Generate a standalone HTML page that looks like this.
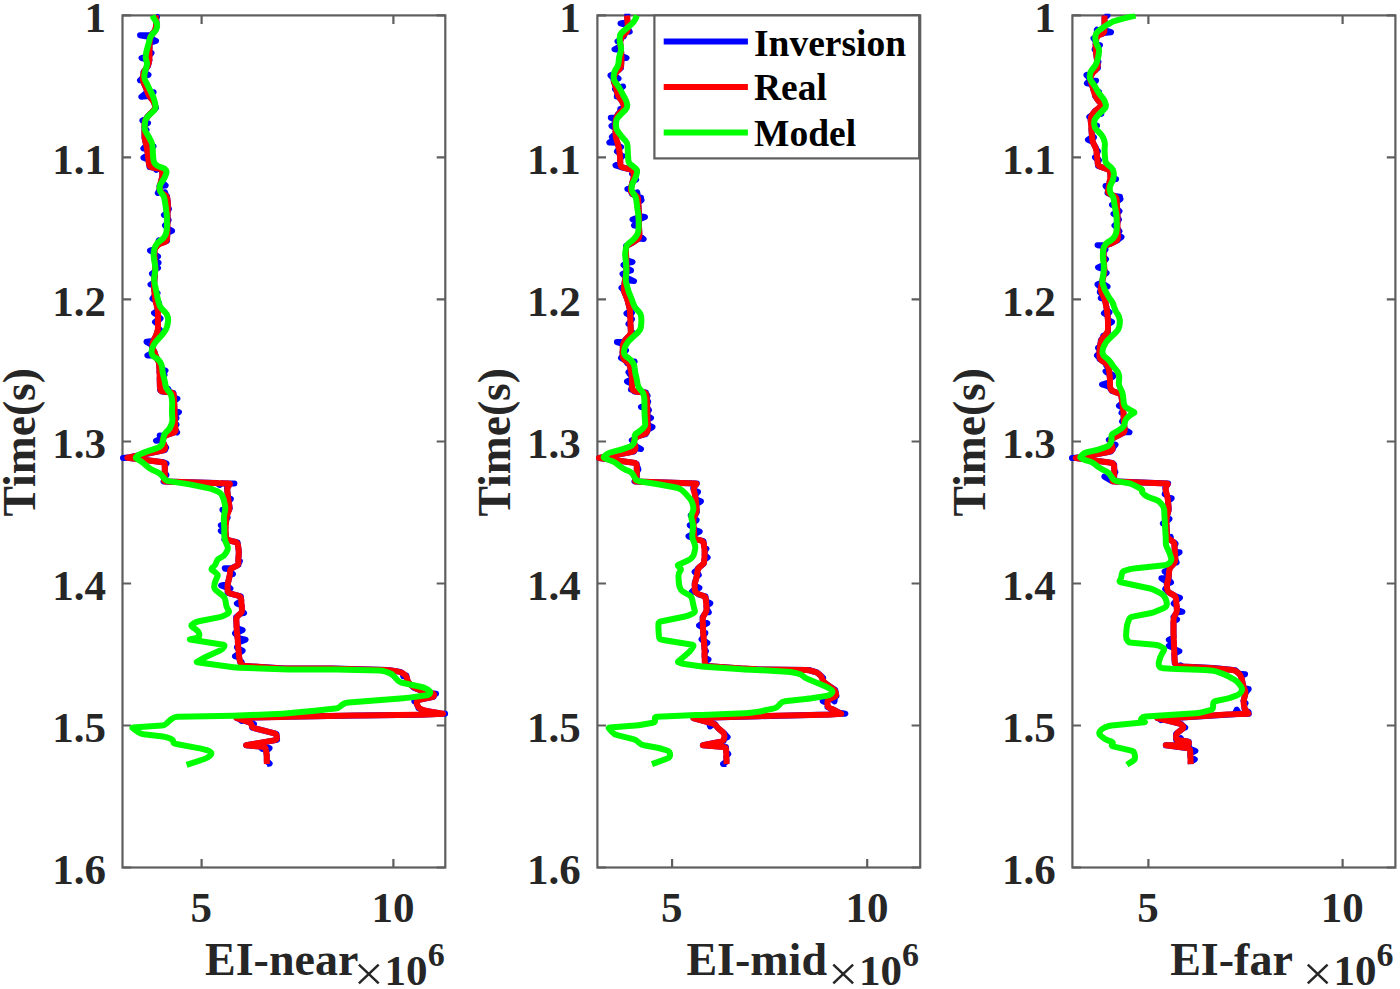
<!DOCTYPE html>
<html><head><meta charset="utf-8"><title>EI inversion</title>
<style>
html,body{margin:0;padding:0;background:#fff;}
body{width:1400px;height:989px;overflow:hidden;font-family:"Liberation Serif",serif;}
svg{display:block;}
text{font-family:"Liberation Serif",serif;font-weight:bold;fill:#262626;}
.leg{fill:#000;}
.c{fill:none;stroke-width:6.0;stroke-linejoin:round;stroke-linecap:butt;}
</style></head><body>
<svg width="1400" height="989" viewBox="0 0 1400 989">
<rect width="1400" height="989" fill="#fff"/>
<!-- panel 1: EI-near -->
<clipPath id="cp0"><rect x="118.5" y="13.8" width="330.8" height="853.7"/></clipPath>
<rect x="122.5" y="15.4" width="322.8" height="852.1" fill="none" stroke="#5e5e5e" stroke-width="2.2"/>
<path d="M122.5,15.4h8.6M445.3,15.4h-8.6M122.5,157.4h8.6M445.3,157.4h-8.6M122.5,299.4h8.6M445.3,299.4h-8.6M122.5,441.5h8.6M445.3,441.5h-8.6M122.5,583.5h8.6M445.3,583.5h-8.6M122.5,725.5h8.6M445.3,725.5h-8.6M122.5,867.5h8.6M445.3,867.5h-8.6M201.6,15.4v8.6M201.6,867.5v-8.6M393.4,15.4v8.6M393.4,867.5v-8.6" stroke="#5e5e5e" stroke-width="2.2" fill="none"/>
<path class="c" clip-path="url(#cp0)" d="M155.5,15.5L155.5,15.5L157.0,16.8L156.1,19.4L156.5,22.0L155.5,30.0L151.5,35.1L140.0,35.3L150.0,37.0L150.0,37.0L149.9,38.0L156.0,40.9L149.6,42.8L149.5,44.0L149.5,52.0L149.5,52.0L151.5,53.0L149.5,55.4L149.5,55.6L141.5,58.0L149.5,60.0L149.5,60.0L148.0,66.0L143.5,72.0L143.5,72.0L148.5,74.8L142.9,76.5L142.8,77.6L140.0,80.3L142.5,80.0L142.5,80.0L146.0,88.0L147.5,91.9L141.4,96.8L149.0,96.0L147.5,91.9L153.6,92.2L149.0,96.0L149.0,96.0L153.5,101.0L156.0,108.0L148.0,116.0L145.9,119.0L142.4,120.5L144.5,121.0L144.5,121.0L144.5,121.0L148.0,123.0L144.5,125.4L144.5,127.6L146.5,130.0L144.5,130.0L144.5,130.0L144.5,138.0L146.3,145.3L143.4,148.5L147.0,148.0L146.4,145.7L153.6,146.5L147.0,148.0L147.0,148.0L147.8,154.8L143.5,157.8L148.4,159.6L148.5,160.0L149.5,167.0L154.2,167.8L156.3,170.0L159.0,168.5L162.0,169.0L162.5,175.0L161.5,180.0L161.1,181.3L165.6,185.4L159.5,185.9L159.5,186.0L159.8,189.6L157.8,193.1L160.0,192.0L160.0,192.0L161.8,193.0L165.0,192.2L166.0,195.4L167.0,196.0L168.0,204.0L167.9,206.5L169.0,208.9L167.7,211.3L167.6,212.6L164.0,215.0L167.5,215.0L167.5,215.0L167.5,217.6L168.7,220.0L167.5,222.4L167.5,223.1L165.0,225.5L167.5,227.9L167.5,228.0L167.5,228.3L172.0,230.9L167.3,233.1L167.0,241.0L162.3,242.8L158.7,240.4L158.0,244.5L158.0,244.5L154.5,249.0L154.5,249.0L150.0,250.5L154.5,252.9L154.5,254.1L158.0,256.5L154.5,258.0L154.5,258.0L154.8,260.7L158.5,262.7L155.2,265.4L155.3,265.6L158.0,268.0L155.5,268.0L155.5,268.0L155.1,271.6L152.0,273.7L154.7,276.4L154.5,278.0L154.2,282.5L150.5,284.6L154.0,285.0L154.0,285.0L154.3,290.9L157.5,293.1L154.5,295.0L154.5,295.0L154.6,295.8L152.5,298.6L155.5,300.5L156.0,303.0L156.0,303.0L159.1,303.5L157.0,306.6L158.0,310.0L158.0,310.6L154.0,313.0L158.0,315.4L158.0,316.1L160.5,318.5L158.0,320.9L158.0,319.6L155.0,322.0L158.0,324.4L158.0,327.6L160.0,330.0L158.0,330.0L158.0,330.0L156.0,336.0L153.0,341.0L153.0,341.0L146.5,341.8L152.3,345.2L152.0,347.0L154.5,352.0L154.5,352.0L147.4,355.4L155.5,355.5L156.0,357.0L159.0,362.0L159.4,368.5L165.5,370.6L159.5,371.0L159.5,371.0L159.5,372.8L164.5,375.1L159.7,377.6L160.0,390.0L162.0,391.5L165.4,391.9L168.2,389.0L170.2,392.6L173.5,393.0L174.0,398.0L174.0,398.0L177.5,398.6L174.1,401.1L174.5,410.0L174.5,410.0L179.0,412.1L174.6,414.6L174.7,415.7L176.5,418.1L174.8,420.5L174.9,422.2L176.5,424.6L175.0,426.0L175.0,426.0L175.6,429.6L177.1,432.5L176.0,432.0L176.0,432.0L165.0,435.5L164.6,436.0L159.7,435.6L162.0,440.0L163.3,438.0L156.0,440.8L162.0,440.0L162.0,440.0L165.0,446.0L165.0,446.0L166.2,447.5L165.0,449.9L165.0,450.0L129.7,457.2L123.0,457.9L127.3,457.7L127.3,457.7L163.6,462.3L163.6,462.3L166.5,463.5L164.8,463.5L164.8,463.5L164.8,472.6L166.4,475.0L164.8,477.4L164.8,478.0L163.5,481.5L217.1,483.1L219.5,485.0L221.9,483.2L228.0,483.4L234.4,483.5L230.4,483.5L230.4,483.5L227.0,488.0L228.0,497.5L228.0,497.5L230.8,499.0L228.7,501.8L229.8,508.4L229.1,510.0L222.4,509.8L227.2,514.4L226.7,515.7L226.7,515.7L227.7,517.4L226.3,519.6L226.0,523.3L220.8,525.2L225.5,528.0L225.5,528.0L225.5,528.3L220.8,530.9L225.7,533.1L225.9,536.6L224.4,539.5L226.0,539.0L226.0,539.0L229.1,540.5L237.6,542.4L238.9,552.0L238.3,560.6L238.3,560.6L239.9,561.1L238.4,563.6L238.5,564.9L232.2,568.0L224.7,568.2L230.0,569.1L232.2,568.0L225.0,568.7L230.0,569.1L230.0,569.1L230.0,571.6L232.9,574.0L230.0,574.6L230.0,574.6L227.6,584.3L227.6,584.3L221.1,585.5L227.6,587.9L227.6,586.1L230.4,588.5L227.6,590.9L227.6,592.8L240.9,596.4L241.3,600.8L236.9,603.5L241.7,605.6L242.1,611.0L242.1,611.0L244.0,613.1L240.9,613.4L240.9,613.4L236.1,617.1L236.7,628.0L236.7,628.0L242.6,630.0L237.1,632.8L236.9,630.8L235.0,633.3L237.3,635.6L237.5,637.9L245.6,639.7L237.9,642.6L237.9,642.6L238.1,644.7L236.9,647.2L238.5,649.5L238.4,648.6L242.6,650.7L238.8,653.4L238.8,653.6L235.0,656.3L239.1,657.1L239.1,657.1L240.1,662.1L240.1,662.1L241.7,661.9L241.8,664.7L242.5,665.8L285.0,668.6L333.6,668.6L388.2,670.0L400.4,671.9L402.4,673.1L403.2,676.3L406.4,675.5L406.4,675.5L407.6,681.6L413.7,687.6L424.6,691.9L432.0,693.3L436.0,693.7L434.4,693.7L434.4,693.7L433.8,696.8L418.6,699.8L417.8,700.5L414.3,701.3L416.1,702.2L416.1,702.2L418.6,708.3L424.6,710.7L440.6,713.4L445.1,713.8L443.0,713.8L443.0,713.8L418.6,714.8L357.9,715.4L285.0,716.8L236.4,718.0L239.6,719.1L241.5,721.0L244.2,720.6L251.0,722.9L251.0,722.9L254.0,724.0L252.0,726.9L252.2,727.7L276.5,733.8L277.1,739.9L246.1,745.3L260.0,746.6L262.2,748.8L264.8,747.0L265.6,747.1L265.6,747.1L269.6,748.1L266.1,751.0L266.8,755.6L266.8,761.1L269.6,763.5L266.8,764.1L266.8,764.1" stroke="#0000ff"/>
<path class="c" clip-path="url(#cp0)" d="M155.5,15.5L156.0,19.0Q156.5,22.0 156.1,25.0L155.9,27.0Q155.5,30.0 153.6,32.4L151.9,34.6Q150.0,37.0 149.8,40.0L149.7,41.0Q149.5,44.0 149.5,47.0L149.5,49.0Q149.5,52.0 149.5,55.0L149.5,57.0Q149.5,60.0 148.8,62.9L148.7,63.1Q148.0,66.0 146.2,68.4L145.3,69.6Q143.5,72.0 143.1,75.0L142.9,77.0Q142.5,80.0 143.7,82.7L144.8,85.3Q146.0,88.0 147.1,90.8L147.9,93.2Q149.0,96.0 151.0,98.2L151.5,98.8Q153.5,101.0 154.5,103.8L155.0,105.2Q156.0,108.0 153.9,110.1L150.1,113.9Q148.0,116.0 146.3,118.5L146.2,118.5Q144.5,121.0 144.5,124.0L144.5,127.0Q144.5,130.0 144.5,133.0L144.5,135.0Q144.5,138.0 145.2,140.9L146.3,145.1Q147.0,148.0 147.4,151.0L148.1,157.0Q148.5,160.0 148.9,163.0L149.1,164.0Q149.5,167.0 152.5,167.5L159.0,168.5Q162.0,169.0 162.2,172.0L162.3,172.0Q162.5,175.0 162.0,177.5L162.0,177.5Q161.5,180.0 160.6,182.8L160.4,183.2Q159.5,186.0 159.7,189.0L159.8,189.0Q160.0,192.0 162.6,193.5L164.4,194.5Q167.0,196.0 167.4,199.0L167.6,201.0Q168.0,204.0 167.9,207.0L167.6,212.0Q167.5,215.0 167.5,218.0L167.5,225.0Q167.5,228.0 167.4,231.0L167.1,238.0Q167.0,241.0 164.2,242.1L160.8,243.4Q158.0,244.5 156.2,246.8L156.2,246.8Q154.5,249.0 154.5,252.0L154.5,255.0Q154.5,258.0 154.8,261.0L155.2,265.0Q155.5,268.0 155.2,271.0L154.8,275.0Q154.5,278.0 154.3,281.0L154.2,282.0Q154.0,285.0 154.1,288.0L154.4,292.0Q154.5,295.0 155.1,297.9L155.4,300.1Q156.0,303.0 156.8,305.9L157.2,307.1Q158.0,310.0 158.0,313.0L158.0,327.0Q158.0,330.0 157.1,332.8L156.9,333.2Q156.0,336.0 154.5,338.5L154.5,338.5Q153.0,341.0 152.5,344.0L152.5,344.0Q152.0,347.0 153.2,349.5L153.2,349.5Q154.5,352.0 155.2,354.5L155.2,354.5Q156.0,357.0 157.5,359.5L157.5,359.5Q159.0,362.0 159.2,365.0L159.3,368.0Q159.5,371.0 159.6,374.0L159.9,387.0Q160.0,390.0 161.0,390.8L161.0,390.8Q162.0,391.5 165.0,391.9L170.5,392.6Q173.5,393.0 173.8,395.5L173.8,395.5Q174.0,398.0 174.1,401.0L174.4,407.0Q174.5,410.0 174.6,413.0L174.9,423.0Q175.0,426.0 175.5,429.0L175.5,429.0Q176.0,432.0 173.1,432.9L167.9,434.6Q165.0,435.5 163.5,437.8L163.5,437.8Q162.0,440.0 163.3,442.7L163.7,443.3Q165.0,446.0 165.0,448.0L165.0,448.0Q165.0,450.0 162.1,450.6L127.3,457.7L160.6,461.9Q163.6,462.3 164.2,462.9L164.2,462.9Q164.8,463.5 164.8,466.5L164.8,475.0Q164.8,478.0 164.2,479.8L164.2,479.8Q163.5,481.5 165.5,481.6L229.1,483.5Q230.4,483.5 229.6,484.5L228.7,485.8Q227.0,488.0 227.3,491.0L227.7,494.5Q228.0,497.5 228.5,500.5L229.3,505.4Q229.8,508.4 228.6,511.2L227.9,512.9Q226.7,515.7 226.4,518.7L225.8,525.0Q225.5,528.0 225.6,531.0L225.9,536.0Q226.0,539.0 227.6,539.8L227.6,539.8Q229.1,540.5 232.0,541.2L234.7,541.7Q237.6,542.4 238.0,545.4L238.5,549.0Q238.9,552.0 238.7,555.0L238.5,557.6Q238.3,560.6 238.4,562.8L238.4,562.8Q238.5,564.9 235.8,566.2L232.7,567.8Q230.0,569.1 230.0,571.9L230.0,571.9Q230.0,574.6 229.3,577.5L228.3,581.4Q227.6,584.3 227.6,587.3L227.6,589.8Q227.6,592.8 230.5,593.6L238.0,595.6Q240.9,596.4 241.1,599.4L241.9,608.0Q242.1,611.0 241.5,612.2L241.5,612.2Q240.9,613.4 238.5,615.2L238.5,615.3Q236.1,617.1 236.3,620.1L236.5,625.0Q236.7,628.0 236.9,631.0L237.7,639.6Q237.9,642.6 238.1,645.6L238.9,654.1Q239.1,657.1 239.6,659.6L239.6,659.6Q240.1,662.1 241.3,664.0L241.3,664.0Q242.5,665.8 245.5,666.0L282.0,668.4Q285.0,668.6 288.0,668.6L330.6,668.6Q333.6,668.6 336.6,668.7L385.2,669.9Q388.2,670.0 391.2,670.5L397.4,671.4Q400.4,671.9 403.0,673.4L403.8,674.0Q406.4,675.5 407.0,678.4L407.0,678.7Q407.6,681.6 409.7,683.7L411.6,685.5Q413.7,687.6 416.5,688.7L421.8,690.8Q424.6,691.9 427.6,692.4L431.5,693.2Q434.4,693.7 434.1,695.2L434.1,695.2Q433.8,696.8 430.9,697.4L421.5,699.2Q418.6,699.8 417.4,701.0L417.4,701.0Q416.1,702.2 417.2,705.0L417.5,705.5Q418.6,708.3 421.4,709.4L421.8,709.6Q424.6,710.7 427.6,711.2L443.0,713.8L421.6,714.7Q418.6,714.8 415.6,714.8L360.9,715.4Q357.9,715.4 354.9,715.5L288.0,716.7Q285.0,716.8 282.0,716.9L236.4,718.0L248.2,721.9Q251.0,722.9 251.6,725.3L251.6,725.3Q252.2,727.7 255.1,728.4L273.6,733.1Q276.5,733.8 276.8,736.8L276.8,736.9Q277.1,739.9 274.1,740.4L246.1,745.3L262.6,746.8Q265.6,747.1 266.0,750.1L266.4,752.6Q266.8,755.6 266.8,758.6L266.8,764.1" stroke="#ff0000"/>
<path class="c" clip-path="url(#cp0)" d="M152.5,15.5L152.8,16.2Q153.0,17.0 154.6,19.5L155.9,21.5Q157.5,24.0 157.0,27.0L157.0,27.0Q156.5,30.0 154.4,32.1L152.6,33.9Q150.5,36.0 149.8,38.9L149.2,41.1Q148.5,44.0 147.7,46.9L146.8,50.1Q146.0,53.0 145.8,55.5L145.8,55.5Q145.5,58.0 146.4,60.8L146.6,61.2Q147.5,64.0 146.5,66.8L146.0,68.2Q145.0,71.0 144.6,74.0L144.4,75.0Q144.0,78.0 145.3,80.7L146.7,83.3Q148.0,86.0 149.3,88.7L151.2,92.3Q152.5,95.0 153.5,97.8L154.0,99.2Q155.0,102.0 155.4,105.0L155.6,106.0Q156.0,109.0 153.7,111.0L151.3,113.0Q149.0,115.0 147.1,117.3L146.9,117.7Q145.0,120.0 144.9,123.0L144.6,127.0Q144.5,130.0 146.1,132.5L147.4,134.5Q149.0,137.0 150.3,139.7L151.2,141.3Q152.5,144.0 152.6,147.0L152.7,149.0Q152.8,152.0 153.0,155.0L153.3,159.0Q153.5,162.0 155.2,164.0L155.2,164.0Q157.0,166.0 159.9,166.9L162.1,167.6Q165.0,168.5 166.0,170.2L166.0,170.2Q167.0,172.0 165.8,174.8L165.2,176.2Q164.0,179.0 162.2,181.4L161.3,182.6Q159.5,185.0 159.5,188.0L159.5,188.0Q159.5,191.0 161.5,193.2L162.0,193.8Q164.0,196.0 164.5,199.0L165.0,202.0Q165.5,205.0 165.9,208.0L166.4,212.0Q166.8,215.0 166.9,218.0L166.9,222.0Q167.0,225.0 166.8,228.0L166.7,230.0Q166.5,233.0 165.2,235.5L165.2,235.5Q164.0,238.0 161.6,239.7L159.4,241.3Q157.0,243.0 155.7,245.7L155.3,246.3Q154.0,249.0 153.8,252.0L153.7,253.0Q153.5,256.0 154.1,258.9L154.4,261.1Q155.0,264.0 155.2,267.0L155.3,267.0Q155.5,270.0 154.9,272.9L154.6,275.1Q154.0,278.0 154.2,280.5L154.2,280.5Q154.5,283.0 155.1,285.9L155.4,287.1Q156.0,290.0 156.6,292.9L157.4,297.1Q158.0,300.0 158.8,302.9L159.2,304.1Q160.0,307.0 162.1,309.1L164.9,311.9Q167.0,314.0 167.7,316.9L167.8,317.1Q168.5,320.0 167.8,322.9L167.2,326.1Q166.5,329.0 164.7,331.4L163.8,332.6Q162.0,335.0 160.0,337.2L157.5,339.8Q155.5,342.0 154.0,344.6L153.0,346.4Q151.5,349.0 151.5,352.0L151.5,352.0Q151.5,355.0 154.0,356.7L156.5,358.3Q159.0,360.0 160.5,362.5L160.5,362.5Q162.0,365.0 162.2,368.0L162.3,369.0Q162.5,372.0 163.2,374.9L163.8,377.1Q164.5,380.0 165.1,382.9L165.4,385.1Q166.0,388.0 167.9,390.3L169.1,391.7Q171.0,394.0 171.6,396.9L171.6,397.1Q172.2,400.0 172.2,403.0L172.0,409.0Q172.0,412.0 172.1,415.0L172.4,419.0Q172.5,422.0 171.3,424.8L170.7,426.2Q169.5,429.0 167.3,431.0L166.2,432.0Q164.0,434.0 163.6,437.0L163.4,439.0Q163.0,442.0 161.8,444.5L161.8,444.5Q160.5,447.0 157.6,447.9L150.9,450.1Q148.0,451.0 145.2,452.1L140.8,453.9Q138.0,455.0 136.5,456.5L136.5,456.5Q135.0,458.0 136.8,458.9L138.3,459.7Q141.0,461.0 143.3,463.0L147.9,467.0Q150.2,469.0 153.0,470.2L157.2,472.0Q160.0,473.2 161.9,475.6L162.9,476.9Q164.8,479.3 166.0,480.1L166.0,480.1Q167.2,481.0 170.2,481.4L184.9,483.6Q187.9,484.0 190.8,484.6L209.1,488.4Q212.0,489.0 214.8,490.2L217.8,491.4Q220.6,492.6 222.0,495.3L222.3,496.0Q223.7,498.7 224.2,501.6L225.0,505.5Q225.5,508.4 224.9,511.3L224.3,514.1Q223.7,517.0 223.9,520.0L224.1,524.9Q224.3,527.9 224.3,530.9L224.3,535.8Q224.3,538.8 225.5,541.6L227.3,545.7Q228.5,548.5 227.0,551.1L225.8,553.2Q224.3,555.8 221.6,557.1L219.7,558.1Q217.0,559.4 216.4,562.1L216.4,562.1Q215.8,564.9 213.5,566.8L212.3,567.7Q210.6,569.1 212.4,570.3L216.0,572.9Q218.5,574.6 217.1,577.3L216.8,577.9Q215.4,580.6 214.7,583.5L214.3,585.6Q213.6,588.5 216.0,590.4L222.7,595.7Q225.1,597.6 225.5,600.6L226.0,604.4Q226.4,607.4 228.2,609.8L228.4,610.1Q230.0,612.2 227.7,613.6L225.3,615.0Q222.7,616.5 219.8,617.1L198.9,621.3Q196.0,621.9 193.5,623.6L192.1,624.5Q190.5,625.6 192.1,626.7L196.5,629.9Q199.0,631.6 199.3,634.4L199.3,634.4Q199.6,637.1 196.7,637.8L189.9,639.5L223.2,644.7Q225.1,645.0 224.1,646.7L223.9,647.1Q222.7,649.3 220.0,650.5L210.0,654.9Q207.3,656.1 204.7,657.5L196.9,661.8Q196.4,662.1 197.0,662.2L233.4,667.2Q236.4,667.6 239.4,667.7L282.0,669.3Q285.0,669.4 288.0,669.4L330.6,669.4Q333.6,669.4 336.6,669.5L379.1,670.5Q382.1,670.6 385.0,671.5L389.0,672.8Q391.9,673.7 393.8,676.0L397.2,679.9Q399.1,682.2 402.0,682.8L421.7,687.0Q424.6,687.6 427.2,689.2L428.1,689.7Q430.7,691.3 430.1,693.1L430.1,693.1Q429.5,694.9 426.5,695.3L409.4,697.6Q406.4,698.0 403.4,698.2L348.7,702.6Q345.7,702.8 343.9,703.7L343.9,703.7Q342.1,704.6 340.2,706.4L340.2,706.5Q338.4,708.3 335.4,708.6L312.3,711.0Q309.3,711.3 306.3,711.6L288.0,713.3Q285.0,713.6 282.0,713.7L239.4,715.5Q236.4,715.6 233.4,715.7L177.5,716.7Q174.5,716.8 172.1,718.7L170.8,719.7Q168.4,721.6 166.6,723.5L166.6,723.5Q164.8,725.3 161.8,725.5L132.7,727.6Q132.0,727.7 132.6,728.1L138.1,732.1Q140.5,733.8 143.5,734.2L163.0,736.4Q166.0,736.8 168.8,738.0L170.5,738.7Q173.3,739.9 173.3,741.7L173.3,741.7Q173.3,743.5 176.3,744.0L197.0,747.9Q200.0,748.4 202.9,749.1L206.8,750.1Q209.7,750.8 210.9,752.3L210.9,752.3Q212.1,753.8 209.9,755.8L209.5,756.1Q207.3,758.1 204.4,759.0L186.6,764.8" stroke="#00ff00"/>
<text x="105.9" y="32.0" font-size="43" text-anchor="end">1</text>
<text x="105.9" y="174.0" font-size="43" text-anchor="end">1.1</text>
<text x="105.9" y="316.0" font-size="43" text-anchor="end">1.2</text>
<text x="105.9" y="458.1" font-size="43" text-anchor="end">1.3</text>
<text x="105.9" y="600.1" font-size="43" text-anchor="end">1.4</text>
<text x="105.9" y="742.1" font-size="43" text-anchor="end">1.5</text>
<text x="105.9" y="884.1" font-size="43" text-anchor="end">1.6</text>
<text x="201.3" y="921.6" font-size="43" text-anchor="middle">5</text>
<text x="393.1" y="921.6" font-size="43" text-anchor="middle">10</text>
<text x="205.0" y="975" font-size="46">EI-near</text>
<path d="M358.9,964.6l19.8,18.8M378.7,964.6l-19.8,18.8" stroke="#262626" stroke-width="2.5" fill="none"/>
<text x="384.5" y="985" font-size="43">10</text>
<text x="427.7" y="966" font-size="34">6</text>
<text transform="translate(35.0,442.3) rotate(-90) scale(0.97,1)" font-size="47" text-anchor="middle">Time(s)</text>
<!-- panel 2: EI-mid -->
<clipPath id="cp1"><rect x="593.4" y="13.8" width="330.8" height="853.7"/></clipPath>
<rect x="597.4" y="15.4" width="322.8" height="852.1" fill="none" stroke="#5e5e5e" stroke-width="2.2"/>
<path d="M597.4,15.4h8.6M920.2,15.4h-8.6M597.4,157.4h8.6M920.2,157.4h-8.6M597.4,299.4h8.6M920.2,299.4h-8.6M597.4,441.5h8.6M920.2,441.5h-8.6M597.4,583.5h8.6M920.2,583.5h-8.6M597.4,725.5h8.6M920.2,725.5h-8.6M597.4,867.5h8.6M920.2,867.5h-8.6M672.1,15.4v8.6M672.1,867.5v-8.6M867.2,15.4v8.6M867.2,867.5v-8.6" stroke="#5e5e5e" stroke-width="2.2" fill="none"/>
<path class="c" clip-path="url(#cp1)" d="M627.0,15.5L627.0,15.5L627.3,14.3L627.2,17.9L627.5,22.0L627.5,22.0L620.5,23.4L627.7,25.4L627.9,28.6L629.7,31.7L628.0,31.0L628.0,31.0L624.6,33.8L623.7,36.5L622.0,36.0L622.0,36.0L620.8,39.7L617.5,41.4L620.0,42.0L620.0,42.0L620.5,46.1L614.5,49.3L621.0,50.0L621.0,50.0L621.4,55.6L626.5,58.0L621.5,58.0L621.5,58.0L621.0,68.0L615.0,73.0L614.8,73.9L610.5,75.4L613.8,78.6L614.5,75.3L618.5,78.6L613.5,80.0L613.5,80.0L616.0,88.0L616.0,88.0L623.1,86.5L616.6,90.6L616.0,88.0L615.0,89.1L616.8,91.2L617.4,93.7L616.8,96.6L618.0,96.0L618.0,96.0L622.0,101.0L625.0,108.0L623.6,109.2L620.3,109.0L620.0,112.3L618.0,114.0L616.5,117.5L610.8,117.8L615.5,120.0L615.5,120.0L615.5,123.6L611.5,126.0L615.5,128.4L615.5,130.0L615.5,133.6L611.9,137.0L615.5,136.0L615.5,136.0L616.1,138.1L609.4,142.5L617.4,142.7L617.5,143.0L618.2,145.4L621.1,147.1L619.0,148.0L619.0,148.0L619.1,148.6L617.0,151.3L619.7,153.3L620.0,156.0L620.0,156.0L622.5,156.1L620.1,158.6L620.3,162.8L615.5,165.4L620.5,167.0L620.5,167.0L633.0,170.0L633.2,171.0L632.0,173.7L634.0,175.8L634.0,176.0L633.9,176.5L636.1,179.5L632.7,181.2L632.0,184.0L631.1,187.4L627.4,189.0L630.5,190.0L630.5,190.0L632.0,194.0L633.7,194.7L637.2,192.3L638.0,196.5L638.0,196.5L638.0,196.5L641.0,197.6L638.2,200.2L638.1,197.9L641.5,200.1L638.3,202.7L638.5,206.0L639.0,216.0L639.0,216.0L645.0,217.0L639.0,219.4L639.0,217.1L632.5,219.5L639.0,221.9L639.0,223.1L634.0,225.5L639.0,226.0L639.0,226.0L639.4,235.6L643.6,239.0L639.5,238.0L639.5,238.0L632.0,243.0L626.0,246.0L626.0,254.0L626.3,260.0L632.5,262.1L626.5,263.0L626.5,263.0L626.5,263.0L623.5,265.0L626.5,267.4L626.5,268.1L631.0,270.5L626.5,272.0L626.5,272.0L626.5,272.2L622.5,273.9L625.6,276.9L625.5,277.1L634.0,281.1L625.0,280.0L625.0,280.0L624.1,285.8L621.5,287.8L623.5,290.0L623.5,290.0L627.5,300.0L630.0,310.0L630.0,310.2L632.0,312.6L630.2,315.0L630.0,310.9L626.5,313.4L630.2,315.7L630.2,316.7L632.0,319.1L630.4,321.5L630.4,321.5L628.5,323.9L630.5,325.0L630.5,325.0L630.8,330.3L632.5,332.6L631.0,334.0L631.0,334.0L625.0,340.0L624.1,341.9L616.9,342.1L623.0,344.0L623.0,344.0L622.8,347.8L626.0,350.4L622.5,352.0L622.5,352.0L622.7,355.3L621.0,357.9L623.0,359.0L623.0,359.0L626.0,361.0L627.3,363.3L629.0,363.0L629.0,363.0L629.0,363.0L634.6,361.5L629.7,365.4L631.0,370.0L631.0,370.0L628.5,372.3L631.5,374.3L631.1,371.1L629.5,373.8L631.7,375.9L632.0,378.0L632.0,379.1L627.0,381.5L632.0,383.9L632.0,386.6L631.0,389.6L632.0,389.0L632.0,389.0L634.0,391.5L646.0,392.5L646.1,393.5L647.6,395.7L646.8,398.3L647.0,400.0L647.0,400.0L648.2,401.5L647.1,404.0L647.1,404.4L641.0,407.0L647.2,409.2L647.2,407.7L649.0,410.0L647.3,412.5L647.4,415.7L651.0,418.0L647.5,420.0L647.5,420.0L647.7,424.9L652.5,427.1L648.0,429.7L648.0,430.0L646.0,434.0L638.0,436.0L634.9,438.5L631.8,440.3L633.0,440.0L633.0,440.0L635.2,445.8L641.0,449.1L636.0,448.0L636.0,448.0L634.0,451.5L599.0,458.0L634.9,462.9L636.8,464.1L636.8,465.6L638.0,468.0L636.8,470.4L636.8,467.2L638.4,469.6L636.8,472.0L636.8,476.9L634.5,481.4L696.9,483.5L693.2,487.8L693.8,490.4L698.0,491.9L695.0,495.1L695.6,497.5L695.8,499.3L700.9,501.3L696.2,504.1L696.9,512.1L694.9,515.3L690.7,515.6L693.2,518.0L693.2,518.0L693.2,518.0L696.6,520.1L693.5,522.7L693.5,522.7L689.8,525.3L693.7,527.5L693.9,529.5L699.7,531.6L694.1,534.3L694.1,533.6L688.5,536.3L694.4,538.3L694.4,538.8L703.5,541.2L704.1,546.6L706.4,548.7L704.7,551.4L704.8,552.1L704.6,554.8L707.6,557.5L704.3,559.6L704.1,561.9L703.8,563.6L697.7,568.5L697.6,569.6L694.6,571.8L697.2,574.4L697.4,572.5L698.8,575.0L697.1,575.8L697.1,575.8L694.7,583.1L694.7,585.5L699.4,587.9L694.7,590.3L694.7,589.2L691.8,592.0L694.7,591.6L694.7,591.6L698.9,594.6L705.6,596.4L706.0,601.2L710.3,603.3L706.4,606.0L706.6,608.6L708.8,612.3L706.8,611.0L706.8,611.0L702.6,617.1L702.7,620.9L707.3,623.2L702.9,625.7L702.8,623.0L699.1,625.5L703.0,627.8L703.2,632.9L703.2,632.9L705.4,633.1L703.4,635.6L703.5,636.8L701.5,639.3L703.9,641.5L703.8,640.6L707.3,642.8L704.2,645.4L704.4,647.4L704.4,648.8L706.0,651.1L704.6,653.6L704.6,657.3L708.5,659.6L704.8,662.1L704.8,663.4L706.5,666.0L741.4,668.5L760.0,669.4L808.6,670.0L817.1,672.5L821.3,676.1L821.3,676.1L823.2,677.9L822.8,680.6L823.2,681.6L828.0,685.2L835.3,690.1L836.5,696.1L835.1,696.7L834.5,701.5L830.7,698.5L827.4,699.8L827.4,699.8L822.7,701.0L827.4,703.4L827.4,707.1L832.9,709.5L839.4,712.7L845.4,713.8L841.5,713.8L841.5,713.8L828.0,714.6L760.0,716.2L693.2,718.0L708.8,722.3L710.1,726.4L713.4,723.6L715.1,724.1L717.5,727.7L724.8,733.8L724.7,734.2L727.6,737.1L724.0,738.9L723.6,741.1L702.9,745.3L726.0,747.1L726.2,751.5L728.3,753.9L726.3,756.3L726.5,761.5L723.1,764.0L726.6,764.1L726.6,764.1" stroke="#0000ff"/>
<path class="c" clip-path="url(#cp1)" d="M627.0,15.5L627.3,19.0Q627.5,22.0 627.7,25.0L627.8,28.0Q628.0,31.0 625.7,32.9L624.3,34.1Q622.0,36.0 621.1,38.8L620.9,39.2Q620.0,42.0 620.4,45.0L620.6,47.0Q621.0,50.0 621.2,53.0L621.3,55.0Q621.5,58.0 621.4,61.0L621.1,65.0Q621.0,68.0 618.7,69.9L617.3,71.1Q615.0,73.0 614.4,75.9L614.1,77.1Q613.5,80.0 614.4,82.9L615.1,85.1Q616.0,88.0 616.7,90.9L617.3,93.1Q618.0,96.0 619.9,98.3L620.1,98.7Q622.0,101.0 623.2,103.8L623.8,105.2Q625.0,108.0 622.7,110.0L620.3,112.0Q618.0,114.0 616.8,116.8L616.7,117.2Q615.5,120.0 615.5,123.0L615.5,127.0Q615.5,130.0 615.5,133.0L615.5,133.0Q615.5,136.0 616.3,138.9L616.7,140.1Q617.5,143.0 618.2,145.5L618.2,145.5Q619.0,148.0 619.4,151.0L619.6,153.0Q620.0,156.0 620.1,159.0L620.4,164.0Q620.5,167.0 623.4,167.7L630.1,169.3Q633.0,170.0 633.5,173.0L633.5,173.0Q634.0,176.0 633.3,178.9L632.7,181.1Q632.0,184.0 631.3,186.9L631.2,187.1Q630.5,190.0 631.2,192.0L631.2,192.0Q632.0,194.0 634.8,195.2L635.2,195.3Q638.0,196.5 638.2,199.5L638.3,203.0Q638.5,206.0 638.6,209.0L638.9,213.0Q639.0,216.0 639.0,219.0L639.0,223.0Q639.0,226.0 639.1,229.0L639.4,235.0Q639.5,238.0 637.0,239.7L634.5,241.3Q632.0,243.0 629.3,244.3L628.7,244.7Q626.0,246.0 626.0,249.0L626.0,251.0Q626.0,254.0 626.2,257.0L626.3,260.0Q626.5,263.0 626.5,266.0L626.5,269.0Q626.5,272.0 625.9,274.9L625.6,277.1Q625.0,280.0 624.6,283.0L623.9,287.0Q623.5,290.0 624.6,292.8L626.4,297.2Q627.5,300.0 628.2,302.9L629.3,307.1Q630.0,310.0 630.1,313.0L630.4,322.0Q630.5,325.0 630.7,328.0L630.8,331.0Q631.0,334.0 628.9,336.1L627.1,337.9Q625.0,340.0 624.0,342.0L624.0,342.0Q623.0,344.0 622.8,347.0L622.7,349.0Q622.5,352.0 622.7,355.0L622.8,356.0Q623.0,359.0 625.5,360.7L626.5,361.3Q629.0,363.0 629.8,365.9L630.2,367.1Q631.0,370.0 631.4,373.0L631.6,375.0Q632.0,378.0 632.0,381.0L632.0,386.0Q632.0,389.0 633.0,390.2L633.0,390.2Q634.0,391.5 637.0,391.7L643.0,392.3Q646.0,392.5 646.4,395.5L646.6,397.0Q647.0,400.0 647.1,403.0L647.4,417.0Q647.5,420.0 647.6,423.0L647.9,427.0Q648.0,430.0 647.0,432.0L647.0,432.0Q646.0,434.0 643.1,434.7L640.9,435.3Q638.0,436.0 635.7,437.9L635.3,438.1Q633.0,440.0 634.1,442.8L634.9,445.2Q636.0,448.0 635.0,449.8L635.0,449.8Q634.0,451.5 631.1,452.0L599.0,458.0L631.9,462.5Q634.9,462.9 635.9,463.5L635.8,463.5Q636.8,464.1 636.8,467.1L636.8,473.9Q636.8,476.9 635.6,479.1L635.3,479.9Q634.5,481.4 636.2,481.5L695.8,483.5Q696.9,483.5 696.2,484.3L695.0,485.6Q693.2,487.8 693.9,490.7L694.9,494.6Q695.6,497.5 695.9,500.5L696.6,509.1Q696.9,512.1 695.3,514.6L694.8,515.5Q693.2,518.0 693.4,521.0L694.2,535.8Q694.4,538.8 697.3,539.6L700.6,540.4Q703.5,541.2 703.9,544.2L704.4,549.1Q704.8,552.1 704.6,555.1L704.3,558.9Q704.1,561.9 704.0,562.8L704.0,562.8Q703.8,563.6 701.5,565.5L700.0,566.6Q697.7,568.5 697.5,571.5L697.3,572.8Q697.1,575.8 696.2,578.6L695.6,580.3Q694.7,583.1 694.7,586.1L694.7,588.6Q694.7,591.6 696.8,593.1L696.8,593.1Q698.9,594.6 701.8,595.4L702.7,595.6Q705.6,596.4 705.8,599.4L706.6,608.0Q706.8,611.0 705.1,613.5L704.3,614.6Q702.6,617.1 702.7,620.1L703.1,629.9Q703.2,632.9 703.4,635.9L704.2,644.4Q704.4,647.4 704.5,650.4L704.7,660.4Q704.8,663.4 705.6,664.7L705.6,664.7Q706.5,666.0 709.5,666.2L738.4,668.3Q741.4,668.5 744.4,668.6L757.0,669.3Q760.0,669.4 763.0,669.4L805.6,670.0Q808.6,670.0 811.5,670.8L814.2,671.7Q817.1,672.5 819.2,674.3L819.2,674.3Q821.3,676.1 822.2,678.9L822.2,678.9Q823.2,681.6 825.6,683.4L825.6,683.4Q828.0,685.2 830.5,686.9L832.8,688.4Q835.3,690.1 835.9,693.0L835.9,693.2Q836.5,696.1 833.7,697.2L830.2,698.7Q827.4,699.8 827.4,702.8L827.4,704.1Q827.4,707.1 830.1,708.3L830.2,708.3Q832.9,709.5 835.6,710.8L841.1,713.6Q841.5,713.8 841.1,713.8L831.0,714.4Q828.0,714.6 825.0,714.7L763.0,716.1Q760.0,716.2 757.0,716.3L693.2,718.0L712.2,723.3Q715.1,724.1 716.3,725.9L716.3,725.9Q717.5,727.7 719.8,729.6L722.5,731.9Q724.8,733.8 724.3,736.8L724.1,738.1Q723.6,741.1 720.7,741.7L702.9,745.3L723.0,746.9Q726.0,747.1 726.1,750.1L726.6,764.1" stroke="#ff0000"/>
<path class="c" clip-path="url(#cp1)" d="M637.0,15.5L635.3,19.3Q634.0,22.0 631.7,24.0L628.3,27.0Q626.0,29.0 623.7,30.9L622.3,32.1Q620.0,34.0 619.8,37.0L619.7,38.0Q619.5,41.0 620.2,43.9L620.8,46.1Q621.5,49.0 620.6,51.9L619.9,54.1Q619.0,57.0 618.8,60.0L618.7,62.0Q618.5,65.0 616.9,67.5L615.6,69.5Q614.0,72.0 613.8,75.0L613.7,77.0Q613.5,80.0 615.4,82.4L617.1,84.6Q619.0,87.0 620.3,89.7L621.7,92.3Q623.0,95.0 624.5,97.6L625.5,99.4Q627.0,102.0 627.2,105.0L627.3,105.0Q627.5,108.0 625.3,110.0L622.2,113.0Q620.0,115.0 618.1,117.3L617.9,117.7Q616.0,120.0 616.0,123.0L616.0,126.0Q616.0,129.0 617.8,131.4L620.2,134.6Q622.0,137.0 624.0,139.2L625.5,140.8Q627.5,143.0 627.6,146.0L627.7,149.0Q627.8,152.0 628.0,155.0L628.3,160.0Q628.5,163.0 630.9,164.8L631.6,165.2Q634.0,167.0 635.8,168.5L635.8,168.5Q637.5,170.0 636.9,172.9L636.6,174.1Q636.0,177.0 634.5,179.6L633.0,182.4Q631.5,185.0 631.5,188.0L631.5,188.0Q631.5,191.0 633.3,193.4L634.2,194.6Q636.0,197.0 636.3,200.0L636.7,203.0Q637.0,206.0 637.4,209.0L638.1,213.0Q638.5,216.0 638.6,219.0L638.7,223.0Q638.8,226.0 638.5,229.0L638.3,231.0Q638.0,234.0 636.1,236.3L634.9,237.7Q633.0,240.0 630.6,241.8L628.9,243.2Q626.5,245.0 626.0,248.0L625.5,251.0Q625.0,254.0 625.3,257.0L625.7,260.0Q626.0,263.0 626.2,266.0L626.3,269.0Q626.5,272.0 626.1,275.0L625.9,277.0Q625.5,280.0 626.2,282.9L627.3,287.1Q628.0,290.0 629.1,292.8L630.9,297.2Q632.0,300.0 633.0,302.8L633.5,304.2Q634.5,307.0 636.5,309.2L639.0,311.8Q641.0,314.0 641.2,317.0L641.3,319.0Q641.5,322.0 641.1,325.0L640.9,327.0Q640.5,330.0 638.3,332.0L636.2,334.0Q634.0,336.0 631.8,338.0L629.7,340.0Q627.5,342.0 626.2,344.7L625.3,346.3Q624.0,349.0 624.0,352.0L624.0,352.0Q624.0,355.0 626.4,356.7L628.6,358.3Q631.0,360.0 632.7,362.5L632.8,362.5Q634.5,365.0 634.7,368.0L634.8,369.0Q635.0,372.0 635.7,374.9L636.3,377.1Q637.0,380.0 637.4,383.0L637.6,384.0Q638.0,387.0 640.0,389.2L641.5,390.8Q643.5,393.0 643.9,396.0L644.1,397.0Q644.5,400.0 644.5,403.0L644.5,409.0Q644.5,412.0 644.6,415.0L644.9,419.0Q645.0,422.0 645.2,424.0L645.2,424.0Q645.5,426.0 643.3,428.0L642.2,429.0Q640.0,431.0 637.5,432.6L637.0,432.9Q634.5,434.5 634.7,437.5L634.8,438.0Q635.0,441.0 633.5,443.5L633.5,443.5Q632.0,446.0 629.2,446.9L622.8,449.1Q620.0,450.0 617.1,450.7L610.9,452.3Q608.0,453.0 605.8,455.0L604.3,456.3Q603.0,457.5 604.6,458.2L607.2,459.3Q610.0,460.5 612.1,461.1L612.1,461.1Q614.3,461.8 616.7,463.6L620.4,466.6Q622.8,468.4 625.5,469.7L629.2,471.3Q631.9,472.6 633.3,475.2L634.1,476.7Q635.5,479.3 636.5,480.2L636.5,480.2Q637.4,481.1 640.4,481.5L655.0,483.7Q658.0,484.1 660.9,484.7L677.0,487.8Q679.9,488.4 682.1,490.4L683.7,491.9Q685.9,493.9 687.8,496.2L690.1,498.8Q692.0,501.1 692.6,504.0L693.2,506.7Q693.8,509.6 692.5,512.3L692.1,513.0Q690.8,515.7 691.5,518.6L692.5,522.5Q693.2,525.4 692.9,528.4L692.3,534.6Q692.0,537.6 693.2,540.4L694.4,543.3Q695.6,546.1 695.1,549.0L694.3,552.9Q693.8,555.8 691.9,557.6L691.9,557.6Q690.0,559.5 687.3,560.8L678.5,564.8Q677.1,565.5 678.4,566.4L679.6,567.4Q681.9,569.1 680.1,571.2L680.1,571.2Q678.3,573.4 678.5,576.4L678.7,581.3Q678.9,584.3 679.7,587.2L679.9,587.5Q680.7,590.4 683.3,591.8L689.0,595.0Q691.6,596.4 692.2,599.3L693.5,605.7Q694.1,608.6 694.7,610.4L694.7,610.4Q695.3,612.2 692.6,613.6L690.7,614.5Q688.0,615.9 685.1,616.5L661.8,621.3Q658.9,621.9 658.6,623.1L658.6,623.1Q658.3,624.4 658.4,627.4L658.8,634.7Q658.9,637.7 659.5,638.6L659.5,638.6Q660.1,639.5 663.1,640.0L692.3,644.7Q694.1,645.0 693.1,646.6L692.0,648.5Q690.4,651.1 688.1,653.0L678.4,661.2Q677.4,662.1 678.7,662.5L680.2,663.0Q683.1,663.8 686.1,664.2L702.0,666.5Q705.0,666.9 708.0,667.1L738.4,669.1Q741.4,669.3 744.4,669.4L757.0,669.9Q760.0,670.0 763.0,670.2L787.4,671.7Q790.4,671.9 793.3,672.5L798.4,673.7Q801.3,674.3 803.1,676.1L803.1,676.1Q804.9,677.9 807.7,679.0L822.8,685.3Q825.6,686.4 828.3,687.8L828.9,688.1Q831.6,689.5 832.2,691.0L832.2,691.0Q832.9,692.5 831.0,694.0L831.0,694.0Q829.2,695.5 826.2,695.9L811.6,698.2Q808.6,698.6 805.6,698.9L784.9,701.3Q781.9,701.6 780.0,703.9L778.9,705.4Q777.0,707.7 774.1,708.4L762.9,710.8Q760.0,711.5 757.0,711.9L750.9,712.7Q747.9,713.1 744.9,713.2L702.3,714.9Q699.3,715.0 696.3,715.1L656.9,716.7Q654.4,716.8 654.9,719.2L655.0,719.5Q655.6,722.3 652.8,722.8L641.6,724.8Q638.6,725.3 635.6,725.5L609.4,727.6Q608.2,727.7 609.0,728.6L612.3,732.2Q614.3,734.4 617.2,735.1L633.2,739.2Q636.1,739.9 638.2,742.0L638.9,742.6Q641.0,744.7 643.9,745.3L657.5,747.8Q660.4,748.4 663.3,749.3L667.2,750.5Q670.1,751.4 670.1,754.4L670.1,754.5Q670.1,757.5 667.3,758.5L651.9,764.1" stroke="#00ff00"/>
<text x="580.8" y="32.0" font-size="43" text-anchor="end">1</text>
<text x="580.8" y="174.0" font-size="43" text-anchor="end">1.1</text>
<text x="580.8" y="316.0" font-size="43" text-anchor="end">1.2</text>
<text x="580.8" y="458.1" font-size="43" text-anchor="end">1.3</text>
<text x="580.8" y="600.1" font-size="43" text-anchor="end">1.4</text>
<text x="580.8" y="742.1" font-size="43" text-anchor="end">1.5</text>
<text x="580.8" y="884.1" font-size="43" text-anchor="end">1.6</text>
<text x="671.8" y="921.6" font-size="43" text-anchor="middle">5</text>
<text x="866.9" y="921.6" font-size="43" text-anchor="middle">10</text>
<text x="686.4" y="975" font-size="46">EI-mid</text>
<path d="M833.3,964.6l19.8,18.8M853.1,964.6l-19.8,18.8" stroke="#262626" stroke-width="2.5" fill="none"/>
<text x="858.9" y="985" font-size="43">10</text>
<text x="902.1" y="966" font-size="34">6</text>
<text transform="translate(509.9,442.3) rotate(-90) scale(0.97,1)" font-size="47" text-anchor="middle">Time(s)</text>
<!-- panel 3: EI-far -->
<clipPath id="cp2"><rect x="1068.4" y="13.8" width="331.0" height="853.7"/></clipPath>
<rect x="1072.4" y="15.4" width="323.0" height="852.1" fill="none" stroke="#5e5e5e" stroke-width="2.2"/>
<path d="M1072.4,15.4h8.6M1395.4,15.4h-8.6M1072.4,157.4h8.6M1395.4,157.4h-8.6M1072.4,299.4h8.6M1395.4,299.4h-8.6M1072.4,441.5h8.6M1395.4,441.5h-8.6M1072.4,583.5h8.6M1395.4,583.5h-8.6M1072.4,725.5h8.6M1395.4,725.5h-8.6M1072.4,867.5h8.6M1395.4,867.5h-8.6M1148.4,15.4v8.6M1148.4,867.5v-8.6M1342.6,15.4v8.6M1342.6,867.5v-8.6" stroke="#5e5e5e" stroke-width="2.2" fill="none"/>
<path class="c" clip-path="url(#cp2)" d="M1104.5,15.5L1104.5,15.5L1107.5,15.5L1104.5,17.9L1104.5,30.0L1104.5,30.0L1111.0,32.2L1104.0,33.0L1104.0,33.0L1101.3,34.2L1096.8,29.8L1097.0,36.0L1097.0,36.0L1096.9,36.6L1093.5,38.4L1096.0,41.3L1095.5,44.0L1095.5,44.0L1100.0,45.1L1095.7,47.8L1095.7,46.9L1094.6,49.4L1096.0,51.7L1096.0,52.0L1097.0,60.0L1097.0,60.0L1098.5,61.7L1097.5,64.3L1098.0,68.0L1092.0,73.0L1091.7,74.1L1086.4,75.0L1090.4,78.7L1090.0,80.0L1090.0,80.0L1086.9,83.3L1091.5,84.1L1090.1,80.4L1096.1,80.7L1091.8,84.9L1093.0,88.0L1093.7,90.8L1099.1,92.0L1094.9,95.5L1095.0,96.0L1099.0,101.5L1102.5,105.0L1099.3,107.6L1101.3,113.9L1095.5,110.6L1095.0,111.0L1091.9,115.1L1089.3,117.0L1090.5,117.0L1090.5,117.0L1091.0,123.7L1097.0,125.7L1091.4,128.5L1091.5,130.0L1091.9,134.9L1094.0,137.2L1092.3,139.7L1092.1,137.1L1088.0,139.8L1092.5,141.9L1092.5,142.0L1096.0,148.0L1096.1,149.1L1098.0,151.2L1096.7,153.8L1097.0,156.0L1097.0,156.0L1095.0,157.3L1097.3,159.5L1097.2,158.0L1099.0,160.2L1097.7,162.7L1098.0,166.0L1110.0,170.0L1110.5,176.0L1110.5,176.0L1116.0,179.2L1109.8,180.7L1109.0,186.0L1109.0,186.0L1105.5,185.9L1108.4,189.0L1107.5,193.0L1114.3,196.0L1120.0,196.7L1116.5,197.0L1116.5,197.0L1116.5,197.0L1120.5,199.1L1116.8,201.7L1116.8,202.2L1112.0,204.9L1117.0,206.0L1117.0,206.0L1117.1,208.8L1119.5,211.1L1117.4,213.6L1117.3,211.3L1113.5,213.9L1117.5,216.0L1117.5,216.0L1117.5,217.1L1119.0,219.5L1117.5,221.9L1117.5,223.1L1114.5,225.5L1117.5,227.9L1117.5,228.0L1117.5,228.8L1119.5,231.1L1117.7,233.6L1117.8,234.8L1121.5,237.1L1118.0,239.6L1118.0,240.0L1110.0,244.0L1105.8,245.3L1097.5,245.2L1103.5,246.0L1103.5,246.0L1103.5,247.1L1105.5,249.5L1103.5,251.9L1103.5,254.0L1103.7,256.9L1106.0,259.1L1104.0,261.7L1104.0,262.0L1104.1,264.7L1098.0,267.4L1104.4,269.5L1104.5,272.0L1104.5,272.0L1106.6,273.0L1103.8,274.8L1102.5,280.0L1101.9,282.8L1097.5,284.4L1101.0,287.5L1101.9,283.0L1107.5,286.6L1101.0,287.7L1100.5,290.0L1100.5,290.0L1099.8,292.2L1102.2,293.7L1102.6,294.7L1100.8,298.2L1104.6,299.1L1105.0,300.0L1107.0,310.0L1107.0,310.0L1109.5,312.2L1107.5,314.8L1107.1,310.6L1104.0,313.3L1107.5,315.4L1108.0,320.0L1108.0,320.0L1112.0,322.0L1108.0,324.4L1108.0,332.0L1105.6,334.7L1103.2,335.7L1102.5,338.3L1101.0,340.0L1100.1,345.7L1098.0,347.8L1099.5,350.0L1099.5,350.0L1099.5,353.1L1097.0,355.5L1099.5,357.9L1099.5,359.0L1107.0,364.0L1107.0,364.0L1106.2,365.4L1108.1,367.3L1109.0,370.0L1109.0,370.0L1105.5,371.3L1109.4,373.2L1109.0,370.0L1106.0,371.8L1109.4,373.8L1109.4,373.2L1113.0,375.2L1109.9,378.0L1109.6,374.7L1113.0,376.7L1110.0,378.5L1110.0,378.5L1110.0,382.1L1102.0,384.5L1110.0,386.9L1110.0,388.0L1112.0,391.0L1121.0,394.0L1122.0,400.0L1122.3,403.0L1119.0,405.8L1122.9,407.7L1123.2,410.2L1121.5,412.8L1123.5,413.0L1123.5,413.0L1123.8,418.9L1122.0,421.4L1124.0,423.7L1124.0,424.0L1124.7,429.6L1129.5,432.3L1125.0,432.0L1125.0,432.0L1117.0,436.0L1112.1,438.8L1108.8,439.8L1110.0,440.0L1110.0,440.0L1111.2,443.6L1115.6,444.6L1112.7,448.1L1113.0,449.0L1111.0,451.5L1078.2,457.6L1072.0,458.0L1075.8,458.0L1075.8,458.0L1112.4,462.9L1114.2,464.7L1114.2,469.6L1115.4,472.0L1114.2,474.4L1114.2,477.5L1113.3,479.0L1104.3,476.6L1112.0,481.3L1112.0,481.3L1168.2,483.5L1165.2,487.8L1166.0,491.2L1164.7,494.0L1167.2,495.9L1167.6,497.5L1167.6,497.5L1171.7,498.3L1168.0,501.1L1168.8,509.6L1166.4,518.0L1166.4,518.0L1169.5,518.9L1166.5,521.4L1166.5,521.0L1162.9,523.5L1166.6,525.8L1167.0,537.6L1167.2,537.7L1170.7,536.8L1171.2,540.4L1174.3,542.4L1174.3,542.4L1175.6,543.7L1174.5,546.2L1174.9,552.1L1174.9,552.1L1179.6,552.2L1175.1,554.9L1175.4,559.5L1176.6,562.4L1175.5,561.9L1175.5,561.9L1169.3,568.5L1169.2,569.6L1164.6,571.6L1168.9,574.4L1169.2,569.7L1164.8,571.7L1168.9,574.4L1168.6,578.2L1168.6,578.2L1161.4,578.2L1167.4,582.4L1168.3,579.2L1171.0,582.5L1166.9,583.8L1166.8,584.3L1167.0,586.4L1165.2,588.9L1167.4,591.2L1167.4,591.6L1175.9,596.4L1175.9,596.4L1180.0,597.8L1176.2,600.4L1176.2,600.9L1173.7,603.5L1176.6,605.7L1176.9,609.8L1182.4,611.8L1177.1,612.2L1177.1,612.2L1173.5,617.1L1173.5,617.1L1177.0,619.5L1173.5,621.9L1173.5,632.9L1173.7,637.3L1168.8,639.9L1173.9,642.1L1173.9,643.3L1168.8,645.9L1174.1,648.1L1174.1,649.0L1179.4,651.2L1174.3,653.8L1174.7,663.2L1177.1,666.3L1178.3,666.4L1180.7,665.3L1183.1,666.6L1213.6,668.1L1235.4,670.2L1239.2,673.8L1245.1,674.3L1240.9,675.5L1240.9,675.5L1243.4,686.4L1244.1,688.3L1248.7,689.0L1245.8,692.5L1245.8,692.5L1243.4,701.0L1243.4,701.0L1245.6,703.1L1244.1,705.7L1244.6,709.5L1246.1,711.0L1248.6,711.9L1248.8,713.8L1248.8,713.8L1239.3,714.1L1236.8,709.7L1234.5,714.3L1230.0,714.4L1174.3,718.0L1157.3,718.0L1158.9,718.4L1161.0,720.2L1163.6,719.6L1181.6,724.1L1182.7,725.7L1185.2,727.7L1184.0,727.7L1184.0,727.7L1176.1,733.8L1176.1,739.9L1178.0,740.2L1180.7,738.2L1182.8,740.8L1188.9,741.7L1188.9,744.7L1165.8,745.3L1190.1,748.4L1190.1,748.7L1195.4,750.9L1190.3,753.5L1190.4,757.1L1194.8,759.4L1190.6,761.9L1190.7,764.1" stroke="#0000ff"/>
<path class="c" clip-path="url(#cp2)" d="M1104.5,15.5L1104.5,27.0Q1104.5,30.0 1104.2,31.5L1104.2,31.5Q1104.0,33.0 1101.2,34.2L1099.8,34.8Q1097.0,36.0 1096.4,38.9L1096.1,41.1Q1095.5,44.0 1095.7,47.0L1095.8,49.0Q1096.0,52.0 1096.4,55.0L1096.6,57.0Q1097.0,60.0 1097.4,63.0L1097.6,65.0Q1098.0,68.0 1095.7,69.9L1094.3,71.1Q1092.0,73.0 1091.2,75.9L1090.8,77.1Q1090.0,80.0 1091.1,82.8L1091.9,85.2Q1093.0,88.0 1093.7,90.9L1094.3,93.1Q1095.0,96.0 1096.8,98.4L1097.2,99.1Q1099.0,101.5 1100.8,103.2L1100.8,103.2Q1102.5,105.0 1100.4,106.7L1097.3,109.1Q1095.0,111.0 1093.2,113.4L1092.3,114.6Q1090.5,117.0 1090.7,120.0L1091.3,127.0Q1091.5,130.0 1091.7,133.0L1092.3,139.0Q1092.5,142.0 1094.0,144.6L1094.5,145.4Q1096.0,148.0 1096.4,151.0L1096.6,153.0Q1097.0,156.0 1097.3,159.0L1097.7,163.0Q1098.0,166.0 1100.8,166.9L1107.2,169.1Q1110.0,170.0 1110.2,173.0L1110.3,173.0Q1110.5,176.0 1110.1,179.0L1109.4,183.0Q1109.0,186.0 1108.4,188.9L1108.1,190.1Q1107.5,193.0 1110.2,194.2L1113.8,195.8Q1116.5,197.0 1116.7,200.0L1116.8,203.0Q1117.0,206.0 1117.1,209.0L1117.4,213.0Q1117.5,216.0 1117.5,219.0L1117.5,225.0Q1117.5,228.0 1117.6,231.0L1117.9,237.0Q1118.0,240.0 1115.3,241.3L1112.7,242.7Q1110.0,244.0 1107.1,244.9L1106.4,245.1Q1103.5,246.0 1103.5,249.0L1103.5,251.0Q1103.5,254.0 1103.7,257.0L1103.8,259.0Q1104.0,262.0 1104.1,265.0L1104.4,269.0Q1104.5,272.0 1103.8,274.9L1103.2,277.1Q1102.5,280.0 1101.9,282.9L1101.1,287.1Q1100.5,290.0 1101.7,292.7L1103.8,297.3Q1105.0,300.0 1105.6,302.9L1106.4,307.1Q1107.0,310.0 1107.3,313.0L1107.7,317.0Q1108.0,320.0 1108.0,323.0L1108.0,329.0Q1108.0,332.0 1106.0,334.3L1103.0,337.7Q1101.0,340.0 1100.6,343.0L1099.9,347.0Q1099.5,350.0 1099.5,353.0L1099.5,356.0Q1099.5,359.0 1102.0,360.7L1104.5,362.3Q1107.0,364.0 1107.9,366.8L1108.1,367.2Q1109.0,370.0 1109.4,373.0L1109.6,375.5Q1110.0,378.5 1110.0,381.5L1110.0,385.0Q1110.0,388.0 1111.0,389.5L1111.0,389.5Q1112.0,391.0 1114.8,391.9L1118.2,393.1Q1121.0,394.0 1121.5,397.0L1121.5,397.0Q1122.0,400.0 1122.3,403.0L1123.2,410.0Q1123.5,413.0 1123.6,416.0L1123.9,421.0Q1124.0,424.0 1124.4,427.0L1124.6,429.0Q1125.0,432.0 1122.3,433.3L1119.7,434.7Q1117.0,436.0 1114.4,437.5L1112.6,438.5Q1110.0,440.0 1110.9,442.8L1112.1,446.2Q1113.0,449.0 1112.0,450.2L1112.0,450.2Q1111.0,451.5 1108.0,452.0L1075.8,458.0L1109.4,462.5Q1112.4,462.9 1113.3,463.8L1113.3,463.8Q1114.2,464.7 1114.2,467.7L1114.2,474.5Q1114.2,477.5 1113.1,479.4L1112.8,479.9Q1112.0,481.3 1113.6,481.4L1166.8,483.4Q1168.2,483.5 1167.4,484.6L1166.7,485.6Q1165.2,487.8 1165.9,490.7L1166.9,494.6Q1167.6,497.5 1167.9,500.5L1168.5,506.6Q1168.8,509.6 1168.0,512.5L1167.2,515.1Q1166.4,518.0 1166.5,521.0L1166.9,534.6Q1167.0,537.6 1169.5,539.2L1171.8,540.8Q1174.3,542.4 1174.5,545.4L1174.7,549.1Q1174.9,552.1 1175.1,555.1L1175.3,558.9Q1175.5,561.9 1173.4,564.1L1171.4,566.3Q1169.3,568.5 1169.1,571.5L1168.8,575.2Q1168.6,578.2 1167.8,581.1L1167.6,581.4Q1166.8,584.3 1167.0,587.3L1167.2,588.6Q1167.4,591.6 1170.0,593.1L1173.3,594.9Q1175.9,596.4 1176.1,599.4L1176.9,609.2Q1177.1,612.2 1175.3,614.6L1175.3,614.7Q1173.5,617.1 1173.5,620.1L1173.5,629.9Q1173.5,632.9 1173.6,635.9L1174.6,660.2Q1174.7,663.2 1175.9,664.8L1175.9,664.8Q1177.1,666.3 1180.1,666.4L1210.6,668.0Q1213.6,668.1 1216.6,668.4L1232.4,669.9Q1235.4,670.2 1237.6,672.3L1238.7,673.4Q1240.9,675.5 1241.6,678.4L1242.7,683.5Q1243.4,686.4 1244.5,689.2L1244.7,689.7Q1245.8,692.5 1245.0,695.4L1244.2,698.1Q1243.4,701.0 1243.8,704.0L1244.2,706.5Q1244.6,709.5 1246.7,711.6L1248.1,713.1Q1248.8,713.8 1247.8,713.8L1233.0,714.3Q1230.0,714.4 1227.0,714.6L1177.3,717.8Q1174.3,718.0 1171.3,718.0L1157.3,718.0L1178.7,723.4Q1181.6,724.1 1182.8,725.9L1182.8,725.9Q1184.0,727.7 1181.6,729.5L1178.5,732.0Q1176.1,733.8 1176.1,736.8L1176.1,736.9Q1176.1,739.9 1179.1,740.3L1185.9,741.3Q1188.9,741.7 1188.9,743.2L1188.9,743.2Q1188.9,744.7 1185.9,744.8L1165.8,745.3L1187.1,748.0Q1190.1,748.4 1190.2,751.4L1190.7,764.1" stroke="#ff0000"/>
<path class="c" clip-path="url(#cp2)" d="M1135.5,15.5L1127.9,17.3Q1125.0,18.0 1122.1,18.8L1115.9,20.7Q1113.0,21.5 1110.4,23.0L1107.6,24.5Q1105.0,26.0 1102.6,27.8L1099.4,30.2Q1097.0,32.0 1096.0,34.0L1096.0,34.0Q1095.0,36.0 1095.4,39.0L1095.6,40.0Q1096.0,43.0 1097.3,45.7L1098.2,47.3Q1099.5,50.0 1098.9,52.9L1098.6,55.1Q1098.0,58.0 1097.2,60.9L1096.8,62.1Q1096.0,65.0 1094.0,67.3L1092.0,69.7Q1090.0,72.0 1089.8,75.0L1089.7,76.0Q1089.5,79.0 1091.4,81.4L1093.1,83.6Q1095.0,86.0 1096.3,88.7L1097.2,90.3Q1098.5,93.0 1100.5,95.3L1102.5,97.7Q1104.5,100.0 1105.3,102.9L1105.7,104.1Q1106.5,107.0 1104.3,109.0L1101.2,112.0Q1099.0,114.0 1097.1,116.3L1095.9,117.7Q1094.0,120.0 1094.2,123.0L1094.3,125.0Q1094.5,128.0 1096.7,130.0L1099.8,133.0Q1102.0,135.0 1103.2,137.8L1103.8,139.2Q1105.0,142.0 1104.9,145.0L1104.6,149.0Q1104.5,152.0 1104.8,155.0L1105.2,160.0Q1105.5,163.0 1107.9,164.8L1109.6,166.2Q1112.0,168.0 1113.0,170.0L1113.0,170.0Q1114.0,172.0 1113.8,175.0L1113.7,176.0Q1113.5,179.0 1112.2,181.7L1110.8,184.3Q1109.5,187.0 1109.7,190.0L1109.8,190.0Q1110.0,193.0 1111.8,195.0L1111.8,195.0Q1113.5,197.0 1113.9,200.0L1114.1,202.0Q1114.5,205.0 1115.1,207.9L1115.9,212.1Q1116.5,215.0 1116.6,218.0L1116.7,222.0Q1116.8,225.0 1116.7,228.0L1116.6,230.0Q1116.5,233.0 1115.0,235.6L1114.5,236.4Q1113.0,239.0 1110.5,240.6L1107.5,242.4Q1105.0,244.0 1104.1,246.8L1103.9,247.2Q1103.0,250.0 1102.9,253.0L1102.9,255.0Q1102.8,258.0 1103.2,261.0L1103.6,263.0Q1104.0,266.0 1103.8,269.0L1103.7,271.0Q1103.5,274.0 1102.9,276.9L1102.6,278.1Q1102.0,281.0 1102.8,283.9L1103.2,285.1Q1104.0,288.0 1105.3,290.7L1106.7,293.3Q1108.0,296.0 1109.7,298.4L1111.3,300.6Q1113.0,303.0 1113.8,305.9L1114.2,307.1Q1115.0,310.0 1116.6,312.5L1117.9,314.5Q1119.5,317.0 1119.7,320.0L1119.8,320.0Q1120.0,323.0 1119.4,325.9L1119.1,327.1Q1118.5,330.0 1116.3,332.0L1114.2,334.0Q1112.0,336.0 1109.9,338.1L1108.1,339.9Q1106.0,342.0 1104.7,344.7L1103.8,346.3Q1102.5,349.0 1102.5,352.0L1102.5,352.0Q1102.5,355.0 1104.9,356.8L1106.6,358.2Q1109.0,360.0 1110.7,362.5L1111.3,363.5Q1113.0,366.0 1114.9,368.3L1116.1,369.7Q1118.0,372.0 1118.8,374.5L1118.8,374.5Q1119.5,377.0 1119.1,380.0L1118.9,382.0Q1118.5,385.0 1120.0,387.6L1121.0,389.4Q1122.5,392.0 1122.9,395.0L1123.1,397.0Q1123.5,400.0 1123.7,403.0L1123.8,403.0Q1124.0,406.0 1126.5,407.7L1127.5,408.3Q1130.0,410.0 1132.5,411.2L1133.9,412.0Q1135.0,412.5 1133.9,413.0L1132.5,413.8Q1130.0,415.0 1127.9,417.1L1127.1,417.9Q1125.0,420.0 1124.8,423.0L1124.7,423.0Q1124.5,426.0 1122.1,427.8L1120.4,429.2Q1118.0,431.0 1115.3,432.3L1113.7,433.2Q1111.0,434.5 1111.5,437.5L1111.5,438.0Q1112.0,441.0 1110.5,443.5L1110.5,443.5Q1109.0,446.0 1106.2,446.9L1099.8,449.1Q1097.0,450.0 1094.1,450.7L1086.9,452.3Q1084.0,453.0 1081.9,455.1L1080.9,456.1Q1079.5,457.5 1081.3,458.3L1083.3,459.2Q1086.0,460.5 1088.8,461.2L1088.8,461.2Q1091.7,461.9 1094.1,463.7L1097.8,466.6Q1100.2,468.4 1102.9,469.7L1106.0,471.3Q1108.7,472.6 1110.3,475.1L1111.4,476.8Q1113.0,479.3 1114.5,480.2L1114.5,480.2Q1116.0,481.1 1119.0,481.6L1127.6,483.0Q1130.6,483.5 1133.3,484.9L1140.0,488.2Q1142.7,489.6 1142.1,491.1L1142.1,491.1Q1141.5,492.6 1144.0,494.3L1145.1,495.2Q1147.6,496.9 1150.4,497.8L1155.7,499.6Q1158.5,500.5 1160.4,502.8L1162.1,504.9Q1164.0,507.2 1164.2,510.2L1164.4,515.1Q1164.6,518.1 1164.8,521.1L1165.0,524.9Q1165.2,527.9 1165.3,530.9L1165.7,537.0Q1165.8,540.0 1165.8,542.8L1165.8,542.8Q1165.8,545.5 1167.2,548.1L1168.0,549.5Q1169.4,552.1 1170.2,555.0L1171.1,557.7Q1171.9,560.6 1169.7,562.7L1169.6,562.8Q1167.4,564.9 1164.4,565.2L1136.0,568.2Q1133.0,568.5 1130.1,569.2L1125.0,570.6Q1122.1,571.3 1121.8,574.3L1121.6,575.2Q1121.3,578.2 1120.1,580.0L1119.9,580.3Q1118.9,581.9 1120.8,582.3L1150.0,588.5Q1152.9,589.1 1155.5,590.6L1161.2,593.7Q1163.8,595.2 1165.1,597.9L1165.5,598.6Q1166.8,601.3 1166.8,604.0L1166.8,604.0Q1166.8,606.8 1164.0,608.0L1155.7,611.6Q1152.9,612.8 1150.0,613.3L1132.7,616.6Q1129.8,617.1 1128.8,619.9L1127.8,622.8Q1126.8,625.6 1126.6,628.6L1126.1,634.7Q1125.9,637.7 1127.2,640.2L1127.2,640.2Q1128.6,642.6 1131.6,642.8L1154.7,644.8Q1157.7,645.0 1160.4,646.3L1162.5,647.4Q1165.0,648.6 1163.6,651.0L1161.6,654.5Q1160.1,657.1 1159.4,660.0L1159.0,661.5Q1158.3,664.4 1159.2,666.2L1159.2,666.2Q1160.1,668.1 1163.1,668.2L1171.3,668.7Q1174.3,668.8 1177.3,668.9L1198.4,669.8Q1201.4,669.9 1204.4,670.1L1210.6,670.4Q1213.6,670.6 1216.4,671.5L1220.1,672.8Q1222.9,673.7 1225.6,675.0L1229.9,677.2Q1232.6,678.5 1234.9,680.0L1234.9,680.0Q1237.3,681.6 1239.1,684.0L1241.0,686.5Q1242.8,688.9 1241.3,691.5L1241.2,691.7Q1239.7,694.3 1236.9,695.4L1232.8,696.9Q1230.0,698.0 1227.1,698.6L1216.0,701.0Q1213.1,701.6 1213.1,704.6L1213.1,706.5Q1213.1,709.5 1210.2,710.2L1201.5,712.4Q1198.6,713.1 1195.6,713.3L1145.7,716.6Q1142.7,716.8 1141.5,718.3L1141.5,718.3Q1140.3,719.8 1142.4,720.9L1144.7,722.1Q1145.1,722.3 1144.6,722.3L1111.7,725.6Q1108.7,725.9 1105.9,727.0L1104.2,727.8Q1101.4,728.9 1099.9,731.3L1099.9,731.3Q1098.4,733.8 1100.7,735.7L1102.8,737.4Q1105.1,739.3 1107.9,740.3L1111.5,741.6Q1113.6,742.3 1112.3,744.1L1112.2,744.3Q1111.1,745.9 1113.0,746.3L1131.3,750.7Q1134.2,751.4 1134.7,754.4L1134.9,756.3Q1135.4,759.3 1132.9,760.9L1126.9,764.8" stroke="#00ff00"/>
<text x="1055.8" y="32.0" font-size="43" text-anchor="end">1</text>
<text x="1055.8" y="174.0" font-size="43" text-anchor="end">1.1</text>
<text x="1055.8" y="316.0" font-size="43" text-anchor="end">1.2</text>
<text x="1055.8" y="458.1" font-size="43" text-anchor="end">1.3</text>
<text x="1055.8" y="600.1" font-size="43" text-anchor="end">1.4</text>
<text x="1055.8" y="742.1" font-size="43" text-anchor="end">1.5</text>
<text x="1055.8" y="884.1" font-size="43" text-anchor="end">1.6</text>
<text x="1148.1" y="921.6" font-size="43" text-anchor="middle">5</text>
<text x="1342.3" y="921.6" font-size="43" text-anchor="middle">10</text>
<text x="1170.2" y="975" font-size="46">EI-far</text>
<path d="M1307.8,964.6l19.8,18.8M1327.6,964.6l-19.8,18.8" stroke="#262626" stroke-width="2.5" fill="none"/>
<text x="1333.4" y="985" font-size="43">10</text>
<text x="1376.6" y="966" font-size="34">6</text>
<text transform="translate(984.9,442.3) rotate(-90) scale(0.97,1)" font-size="47" text-anchor="middle">Time(s)</text>
<!-- legend -->
<rect x="654.4" y="15.4" width="264.8" height="143" fill="#fff" stroke="#5e5e5e" stroke-width="2.2"/>
<path d="M663.7,41.5H747.9" stroke="#0000ff" stroke-width="6"/>
<text class="leg" x="754" y="56.1" font-size="37.5">Inversion</text>
<path d="M663.7,87.0H747.9" stroke="#ff0000" stroke-width="6"/>
<text class="leg" x="754" y="100.4" font-size="37.5">Real</text>
<path d="M663.7,132.5H747.9" stroke="#00ff00" stroke-width="6"/>
<text class="leg" x="754" y="146.2" font-size="37.5">Model</text>
</svg>
</body></html>
